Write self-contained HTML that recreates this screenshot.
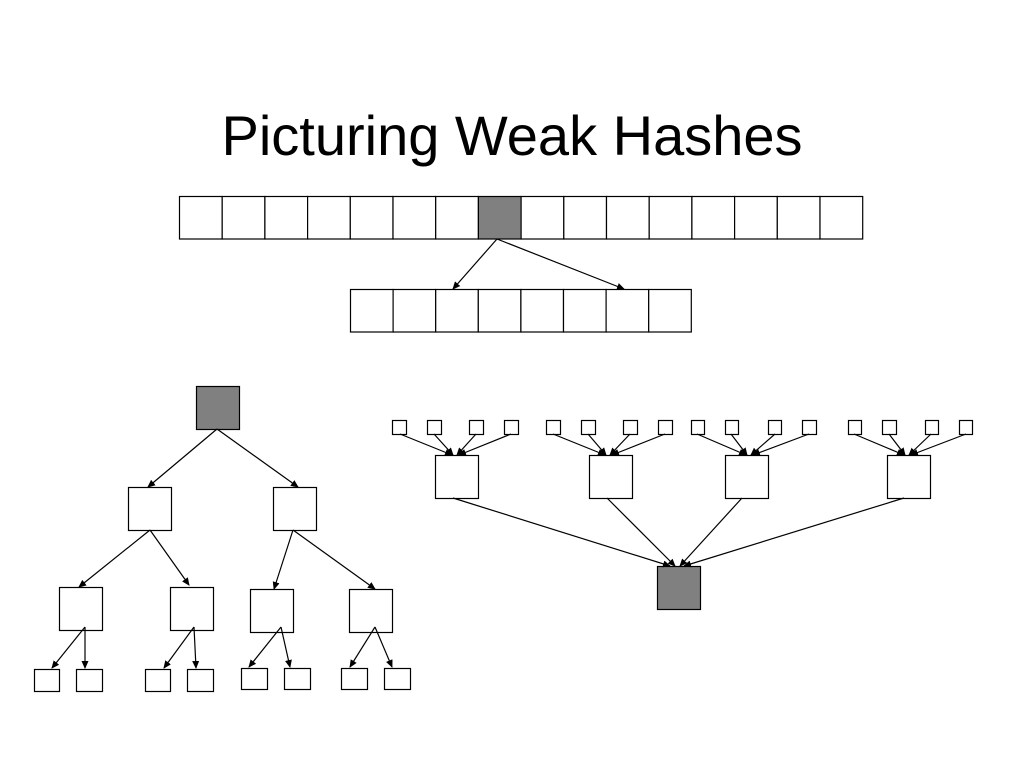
<!DOCTYPE html>
<html><head><style>body{margin:0;background:#fff}svg{display:block}</style></head>
<body>
<svg width="1024" height="768" xmlns="http://www.w3.org/2000/svg">
<defs><marker id="a" markerWidth="8" markerHeight="8" refX="7" refY="4" orient="auto" markerUnits="userSpaceOnUse"><path d="M0,0.5 L8,4 L0,7.5 z" fill="#000"/></marker></defs>
<text x="512" y="155" text-anchor="middle" font-family="Liberation Sans, sans-serif" font-size="56">Picturing Weak Hashes</text>
<g fill="#fff" stroke="#000" stroke-width="1.2">
<rect x="179.5" y="196.5" width="42.7" height="42.5"/><rect x="222.2" y="196.5" width="42.7" height="42.5"/><rect x="264.9" y="196.5" width="42.7" height="42.5"/><rect x="307.6" y="196.5" width="42.7" height="42.5"/><rect x="350.3" y="196.5" width="42.7" height="42.5"/><rect x="393" y="196.5" width="42.7" height="42.5"/><rect x="435.7" y="196.5" width="42.7" height="42.5"/><rect x="478.4" y="196.5" width="42.7" height="42.5" fill="#808080"/><rect x="521.1" y="196.5" width="42.7" height="42.5"/><rect x="563.8" y="196.5" width="42.7" height="42.5"/><rect x="606.5" y="196.5" width="42.7" height="42.5"/><rect x="649.2" y="196.5" width="42.7" height="42.5"/><rect x="691.9" y="196.5" width="42.7" height="42.5"/><rect x="734.6" y="196.5" width="42.7" height="42.5"/><rect x="777.3" y="196.5" width="42.7" height="42.5"/><rect x="820" y="196.5" width="42.7" height="42.5"/>
<rect x="350.5" y="289.5" width="42.6" height="42.5"/><rect x="393.1" y="289.5" width="42.6" height="42.5"/><rect x="435.7" y="289.5" width="42.6" height="42.5"/><rect x="478.3" y="289.5" width="42.6" height="42.5"/><rect x="520.9" y="289.5" width="42.6" height="42.5"/><rect x="563.5" y="289.5" width="42.6" height="42.5"/><rect x="606.1" y="289.5" width="42.6" height="42.5"/><rect x="648.7" y="289.5" width="42.6" height="42.5"/>
<rect x="196.5" y="386.5" width="43" height="43" fill="#808080"/>
<rect x="128.5" y="487.5" width="43" height="43"/><rect x="273.5" y="487.5" width="43" height="43"/>
<rect x="59.5" y="587.5" width="43" height="43"/><rect x="170.5" y="587.5" width="43" height="43"/><rect x="250.5" y="589.5" width="43" height="43"/><rect x="349.5" y="589.5" width="43" height="43"/>
<rect x="34.5" y="669.5" width="25" height="22"/><rect x="76.5" y="669.5" width="26" height="22"/><rect x="145.5" y="669.5" width="25" height="22"/><rect x="187.5" y="669.5" width="26" height="22"/><rect x="241.5" y="668.5" width="26" height="21"/><rect x="284.5" y="668.5" width="26" height="21"/><rect x="341.5" y="668.5" width="26" height="21"/><rect x="384.5" y="668.5" width="26" height="21"/>
<rect x="392.5" y="420.5" width="14" height="14"/><rect x="427.5" y="420.5" width="14" height="14"/><rect x="469.5" y="420.5" width="14" height="14"/><rect x="504.5" y="420.5" width="14" height="14"/>
<rect x="546.5" y="420.5" width="14" height="14"/><rect x="581.5" y="420.5" width="14" height="14"/><rect x="623.5" y="420.5" width="14" height="14"/><rect x="658.5" y="420.5" width="14" height="14"/>
<rect x="691.5" y="420.5" width="13" height="14"/><rect x="725.5" y="420.5" width="13" height="14"/><rect x="768.5" y="420.5" width="13" height="14"/><rect x="802.5" y="420.5" width="14" height="14"/>
<rect x="848.5" y="420.5" width="13" height="14"/><rect x="882.5" y="420.5" width="14" height="14"/><rect x="925.5" y="420.5" width="13" height="14"/><rect x="959.5" y="420.5" width="13" height="14"/>
<rect x="435.5" y="455.5" width="43" height="43"/><rect x="589.5" y="455.5" width="43" height="43"/><rect x="725.5" y="455.5" width="43" height="43"/><rect x="887.5" y="455.5" width="43" height="43"/>
<rect x="657.5" y="566.5" width="43" height="43" fill="#808080"/>
</g>
<g stroke="#000" stroke-width="1.2" marker-end="url(#a)">
<line x1="497" y1="239" x2="453" y2="289"/><line x1="497" y1="239" x2="624" y2="289"/>
<line x1="217" y1="429" x2="148" y2="487"/><line x1="217" y1="429" x2="298" y2="487"/>
<line x1="150" y1="530" x2="79" y2="587"/><line x1="150" y1="530" x2="189" y2="585"/>
<line x1="293" y1="530" x2="274" y2="589"/><line x1="293" y1="530" x2="375" y2="589"/>
<line x1="85" y1="627" x2="52" y2="668"/><line x1="85" y1="627" x2="85" y2="668"/>
<line x1="194" y1="627" x2="164" y2="668"/><line x1="194" y1="627" x2="196" y2="668"/>
<line x1="281" y1="627" x2="249" y2="667"/><line x1="281" y1="627" x2="290" y2="667"/>
<line x1="375" y1="627" x2="350" y2="667"/><line x1="375" y1="627" x2="392" y2="667"/>
<line x1="400" y1="434" x2="452" y2="455"/><line x1="434" y1="434" x2="453" y2="455"/><line x1="476" y1="434" x2="457" y2="455"/><line x1="511" y1="434" x2="459" y2="455"/>
<line x1="553" y1="434" x2="605" y2="455"/><line x1="588" y1="434" x2="606" y2="455"/><line x1="630" y1="434" x2="610" y2="455"/><line x1="665" y1="434" x2="612" y2="455"/>
<line x1="697" y1="434" x2="746" y2="455"/><line x1="731" y1="434" x2="747" y2="455"/><line x1="775" y1="434" x2="751" y2="455"/><line x1="809" y1="434" x2="753" y2="455"/>
<line x1="854" y1="434" x2="904" y2="455"/><line x1="889" y1="434" x2="905" y2="455"/><line x1="931" y1="434" x2="909" y2="455"/><line x1="966" y1="434" x2="911" y2="455"/>
<line x1="453" y1="498" x2="670" y2="566"/><line x1="607" y1="498" x2="675" y2="566"/><line x1="742" y1="498" x2="680" y2="566"/><line x1="904" y1="498" x2="684" y2="566"/>
</g>
</svg>
</body></html>
